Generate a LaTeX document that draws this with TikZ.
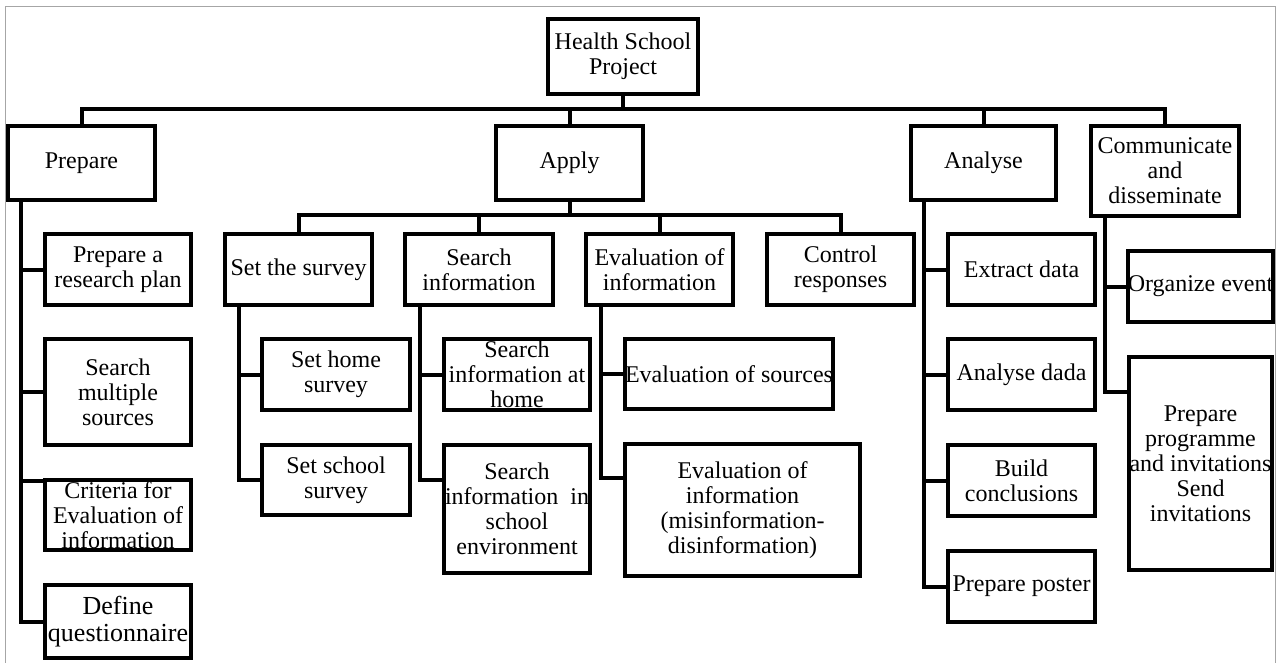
\documentclass[tikz,border=0pt]{standalone}
\usepackage{fontspec}
\setmainfont{Liberation Serif}
\usetikzlibrary{calc}
\newcommand{\boxfont}{\fontsize{24}{25}\selectfont}
\tikzset{
  wbs/.style={draw, line width=4pt, align=center, inner sep=0pt, font=\boxfont},
  link/.style={line width=4pt}
}
\begin{document}
\begin{tikzpicture}[x=1pt,y=-1pt]
\useasboundingbox (0,0) rectangle (1276,663);
\draw[gray!70, line width=1pt] (5.5,663) -- (5.5,7) -- (1275,7) -- (1275,663);
% project and phases
\node[wbs, minimum width=150, minimum height=75] (root) at (623,56.5) {Health School\\Project};
\node[wbs, minimum width=147, minimum height=74] (prep) at (81.5,163) {Prepare};
\node[wbs, minimum width=147, minimum height=74] (apply) at (569.5,163) {Apply};
\node[wbs, minimum width=145, minimum height=74] (analyse) at (983.5,163) {Analyse};
\node[wbs, minimum width=148, minimum height=90] (comm) at (1165,171) {Communicate\\and\\disseminate};
% apply sub-phases
\node[wbs, minimum width=147, minimum height=71] (survey) at (298.5,269.5) {Set the survey};
\node[wbs, minimum width=148, minimum height=71] (sinfo) at (479,269.5) {Search\\information};
\node[wbs, minimum width=147, minimum height=71] (evinfo) at (659.5,269.5) {Evaluation of\\information};
\node[wbs, minimum width=147, minimum height=71] (control) at (840.5,269.5) {Control\\responses};
% prepare tasks
\node[wbs, minimum width=146, minimum height=71] (plan) at (118,269.5) {Prepare a\\research plan};
\node[wbs, minimum width=146, minimum height=106] (multi) at (118,392) {Search\\multiple\\sources};
\node[wbs, minimum width=146, minimum height=70] (crit) at (118,515) {Criteria for\\Evaluation of\\information};
\node[wbs, minimum width=146, minimum height=73, font=\fontsize{26}{27}\selectfont] (quest) at (118,621.5) {Define\\questionnaire};
% apply tasks
\node[wbs, minimum width=148, minimum height=71] (home) at (336,374.5) {Set home\\survey};
\node[wbs, minimum width=148, minimum height=70] (school) at (336,480) {Set school\\survey};
\node[wbs, minimum width=146, minimum height=71] (athome) at (517,374.5) {Search\\information at\\home};
\node[wbs, minimum width=146, minimum height=128] (inschool) at (517,509) {Search\\information~ in\\school\\environment};
\node[wbs, minimum width=208, minimum height=70] (sources) at (729,374) {Evaluation of sources};
\node[wbs, minimum width=235, minimum height=132] (misinfo) at (742.5,510) {Evaluation of\\information\\(misinformation-\\disinformation)};
% analyse tasks
\node[wbs, minimum width=147, minimum height=71] (extract) at (1021.5,269.5) {Extract data};
\node[wbs, minimum width=147, minimum height=71] (dada) at (1021.5,374.5) {Analyse dada};
\node[wbs, minimum width=147, minimum height=71] (concl) at (1021.5,480.5) {Build\\conclusions};
\node[wbs, minimum width=147, minimum height=71] (poster) at (1021.5,586.5) {Prepare poster};
% communicate tasks
\node[wbs, minimum width=143, minimum height=71] (event) at (1200.5,286.5) {Organize event};
\node[wbs, minimum width=143, minimum height=213] (progr) at (1200.5,463.5) {Prepare\\programme\\and invitations\\Send\\invitations};
% buses
\coordinate (bus1) at (0,109);
\foreach \n in {prep,apply,analyse,comm}
  \draw[link] (root.south) |- (bus1 -| \n.north) -- (\n.north);
\coordinate (bus2) at (0,215);
\foreach \n in {survey,sinfo,evinfo,control}
  \draw[link] (apply.south) |- (bus2 -| \n.north) -- (\n.north);
% trunks
\coordinate (prepT) at ($(prep.south west)+(15,0)$);
\foreach \n in {plan,multi,quest}
  \draw[link] (prepT) |- (\n.west);
\draw[link] (prepT) |- ($(crit.north west)+(0,3)$);
\coordinate (survT) at ($(survey.south west)+(16,0)$);
\foreach \n in {home,school}
  \draw[link] (survT) |- (\n.west);
\coordinate (sinfoT) at ($(sinfo.south west)+(17,0)$);
\draw[link] (sinfoT) |- (athome.west);
\draw[link] (sinfoT) |- ($(inschool.west)+(0,-29)$);
\coordinate (evinfoT) at ($(evinfo.south west)+(17,0)$);
\draw[link] (evinfoT) |- (sources.west);
\draw[link] (evinfoT) |- ($(misinfo.west)+(0,-32)$);
\coordinate (anaT) at ($(analyse.south west)+(15,0)$);
\foreach \n in {extract,dada,concl,poster}
  \draw[link] (anaT) |- (\n.west);
\coordinate (commT) at ($(comm.south west)+(16,0)$);
\draw[link] (commT) |- (event.west);
\draw[link] (commT) |- ($(progr.west)+(0,-71.5)$);
\end{tikzpicture}
\end{document}
